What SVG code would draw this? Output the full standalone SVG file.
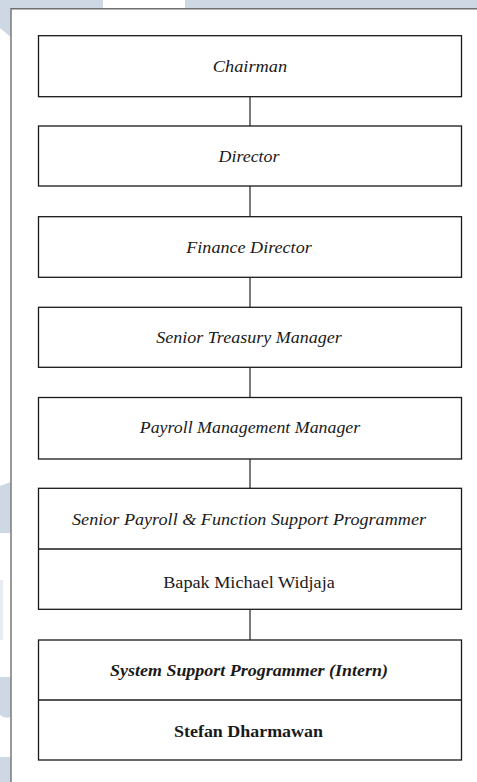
<svg xmlns="http://www.w3.org/2000/svg" width="477" height="782" viewBox="0 0 477 782">
<style>
.bg{fill:#cdd8e4}
.frame{fill:none;stroke:#6e6e6e;stroke-width:1.4}
.box{fill:#ffffff;stroke:#1a1a1a;stroke-width:1.3}
.div{stroke:#1a1a1a;stroke-width:1.3}
.conn{stroke:#333333;stroke-width:1.3}
.t{font-family:"Liberation Serif","Times New Roman",serif;font-size:17px;fill:#1a1a1a;text-anchor:middle}
.i{font-style:italic}
.b{font-weight:bold}
</style>
<rect width="477" height="782" fill="#ffffff"/>
<g id="watermark">
<rect class="bg" x="0" y="0" width="103" height="8.5"/>
<rect class="bg" x="185" y="0" width="292" height="8.5"/>
<polygon class="bg" points="0,0 10.5,0 10.5,37 0,28"/>
<polygon class="bg" points="0,486 10.5,482 10.5,533 0,533"/>
<rect x="0" y="580" width="3" height="60" fill="#e6ecf2"/>
<path class="bg" d="M0,677 H10.5 V717 Q5,719 0,715 Z"/>
<rect class="bg" x="0" y="757" width="10.5" height="25"/>
</g>
<path class="frame" d="M11,782 V8.8 H477"/>
<g id="connectors">
<line class="conn" x1="250" y1="96.7" x2="250" y2="126"/>
<line class="conn" x1="250" y1="186" x2="250" y2="216.7"/>
<line class="conn" x1="250" y1="277.3" x2="250" y2="307.3"/>
<line class="conn" x1="250" y1="367.3" x2="250" y2="397.5"/>
<line class="conn" x1="250" y1="459" x2="250" y2="488.3"/>
<line class="conn" x1="250" y1="609.3" x2="250" y2="640"/>
</g>
<g id="chairman">
<rect class="box" x="38.5" y="35.7" width="423" height="61"/>
<text class="t i" x="250" y="72" textLength="74.5" lengthAdjust="spacingAndGlyphs">Chairman</text>
</g>
<g id="director">
<rect class="box" x="38.5" y="126" width="423" height="60"/>
<text class="t i" x="249" y="162" textLength="61" lengthAdjust="spacingAndGlyphs">Director</text>
</g>
<g id="finance-director">
<rect class="box" x="38.5" y="216.7" width="423" height="60.6"/>
<text class="t i" x="249" y="253" textLength="125.5" lengthAdjust="spacingAndGlyphs">Finance Director</text>
</g>
<g id="senior-treasury-manager">
<rect class="box" x="38.5" y="307.3" width="423" height="60"/>
<text class="t i" x="249" y="343" textLength="185.5" lengthAdjust="spacingAndGlyphs">Senior Treasury Manager</text>
</g>
<g id="payroll-management-manager">
<rect class="box" x="38.5" y="397.5" width="423" height="61.5"/>
<text class="t i" x="250" y="433" textLength="220.5" lengthAdjust="spacingAndGlyphs">Payroll Management Manager</text>
</g>
<g id="senior-payroll-programmer">
<rect class="box" x="38.5" y="488.3" width="423" height="121"/>
<line class="div" x1="38.5" y1="549" x2="461.5" y2="549"/>
<text class="t i" x="249" y="524.5" textLength="354" lengthAdjust="spacingAndGlyphs">Senior Payroll &amp; Function Support Programmer</text>
<text class="t" x="249" y="588" textLength="171.5" lengthAdjust="spacingAndGlyphs">Bapak Michael Widjaja</text>
</g>
<g id="system-support-programmer">
<rect class="box" x="38.5" y="640" width="423" height="120"/>
<line class="div" x1="38.5" y1="700" x2="461.5" y2="700"/>
<text class="t i b" x="249" y="676" textLength="278" lengthAdjust="spacingAndGlyphs">System Support Programmer (Intern)</text>
<text class="t b" x="248.5" y="736.5" textLength="149" lengthAdjust="spacingAndGlyphs">Stefan Dharmawan</text>
</g>
</svg>
